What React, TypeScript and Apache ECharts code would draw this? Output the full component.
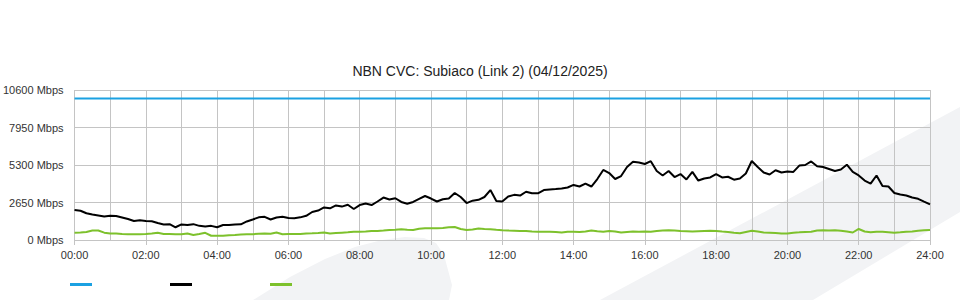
import React, { useEffect, useRef } from "react";
import * as echarts from "echarts";

// Time axis: 10-minute samples from 00:00 to 24:00 (hours)
const STEP_HOURS = 10 / 60;

const yTicks = [0, 2650, 5300, 7950, 10600];
const xTickHours = [0, 2, 4, 6, 8, 10, 12, 14, 16, 18, 20, 22, 24];

const capacityMbps = 10000;

const downloadMbps = [
  2120, 2070, 1890, 1800, 1730, 1660, 1710, 1700, 1590, 1480,
  1340, 1390, 1340, 1320, 1200, 1100, 1120, 900, 1100, 1060,
  1120, 1000, 950, 1000, 900, 1060, 1060, 1100, 1110, 1310,
  1450, 1600, 1640, 1450, 1590, 1640, 1550, 1540, 1600, 1710,
  1980, 2080, 2300, 2240, 2440, 2360, 2490, 2190, 2470, 2580,
  2470, 2720, 3000, 2860, 2950, 2690, 2560, 2690, 2900, 3110,
  2930, 2720, 2880, 2930, 3320, 3040, 2610, 2780, 2840, 3040,
  3530, 2760, 2720, 3070, 3190, 3140, 3410, 3300, 3300, 3530,
  3570, 3600, 3640, 3710, 3890, 3780, 3990, 3780, 4310, 4950,
  4730, 4310, 4520, 5160, 5530, 5480, 5370, 5570, 4880, 4560,
  4880, 4450, 4660, 4280, 4810, 4200, 4350, 4420, 4660, 4420,
  4470, 4260, 4350, 4700, 5580, 5160, 4770, 4630, 4930, 4770,
  4840, 4810, 5260, 5300, 5550, 5210, 5160, 5020, 4880, 4980,
  5320, 4810, 4560, 4200, 3990, 4560, 3820, 3780, 3320, 3210,
  3140, 3000, 2910, 2710, 2520,
];

const uploadMbps = [
  520, 530, 565, 670, 670, 520, 460, 460, 420, 400,
  400, 410, 420, 460, 510, 420, 420, 410, 400, 460,
  350, 420, 510, 300, 300, 300, 330, 350, 390, 400,
  410, 440, 460, 440, 530, 410, 420, 420, 420, 460,
  470, 490, 530, 460, 490, 520, 540, 580, 580, 600,
  640, 640, 670, 710, 730, 760, 720, 710, 790, 830,
  830, 830, 850, 900, 920, 780, 710, 740, 810, 780,
  760, 720, 690, 670, 660, 640, 640, 600, 590, 590,
  590, 570, 530, 590, 590, 570, 600, 670, 620, 590,
  640, 600, 530, 570, 600, 590, 600, 590, 640, 670,
  690, 670, 640, 620, 600, 620, 640, 660, 640, 600,
  570, 510, 480, 570, 650, 600, 530, 520, 490, 460,
  460, 520, 540, 570, 590, 670, 690, 680, 690, 660,
  600, 530, 780, 600, 550, 590, 580, 550, 520, 550,
  590, 600, 650, 690, 710,
];

const pad2 = (n: number) => (n < 10 ? "0" + n : "" + n);

export default function App() {
  const ref = useRef<HTMLDivElement>(null);

  useEffect(() => {
    if (!ref.current) return;
    const chart = echarts.init(ref.current, null, { renderer: "svg" });

    const toPairs = (arr: number[]) => arr.map((v, i) => [i * STEP_HOURS, v]);
    const capacityData = [
      [0, capacityMbps],
      [24, capacityMbps],
    ];

    const wm = "#f2f3f5";

    chart.setOption({
      animation: false,
      backgroundColor: "#ffffff",
      textStyle: { fontFamily: "Liberation Sans, Arial, sans-serif" },
      title: {
        text: "NBN CVC: Subiaco (Link 2) (04/12/2025)",
        left: "center",
        top: 59,
        textStyle: {
          fontSize: 14,
          fontWeight: "normal",
          color: "#222",
          fontFamily: "Liberation Sans, Arial, sans-serif",
        },
      },
      graphic: [
        {
          type: "polygon",
          z: -10,
          silent: true,
          shape: {
            points: [
              [600, 300],
              [960, 107],
              [960, 212],
              [813, 300],
            ],
          },
          style: { fill: wm },
        },
        {
          type: "polygon",
          z: -10,
          silent: true,
          shape: {
            points: [
              [253, 300],
              [290, 277],
              [325, 259],
              [355, 247],
              [382, 240],
              [405, 237],
              [424, 238],
              [436, 243],
              [444, 255],
              [452, 285],
              [449, 300],
            ],
          },
          style: { fill: wm },
        },
      ],
      legend: {
        left: 70,
        top: 283,
        padding: 0,
        itemWidth: 22,
        itemHeight: 3,
        itemGap: 78,
        icon: "rect",
        formatter: () => "",
        selectedMode: false,
        data: ["Capacity", "Download", "Upload"],
      },
      grid: { left: 70, right: 30, top: 90, bottom: 60, containLabel: false },
      xAxis: {
        type: "value",
        min: 0,
        max: 24,
        interval: 2,
        axisLine: { show: false },
        axisTick: {
          show: true,
          length: 5,
          lineStyle: { color: "#c4c4c4" },
        },
        axisLabel: {
          margin: 9,
          fontSize: 11,
          color: "#333",
          formatter: (v: number) =>
            xTickHours.indexOf(v) >= 0 ? pad2(v) + ":00" : "",
        },
        splitLine: { show: true, lineStyle: { color: "#c4c4c4", width: 1 } },
        minorTick: { show: false, splitNumber: 2 },
        minorSplitLine: { show: true, lineStyle: { color: "#c4c4c4", width: 1 } },
      },
      yAxis: {
        type: "value",
        min: 0,
        max: 10600,
        interval: 2650,
        axisLine: { show: false },
        axisTick: { show: false },
        axisLabel: {
          margin: 11,
          fontSize: 11,
          color: "#333",
          formatter: (v: number) =>
            yTicks.indexOf(v) >= 0 ? v + " Mbps" : "",
        },
        splitLine: { show: true, lineStyle: { color: "#c4c4c4", width: 1 } },
      },
      series: [
        {
          name: "Capacity",
          type: "line",
          data: capacityData,
          showSymbol: false,
          lineStyle: { color: "#1ba1e2", width: 2 },
          itemStyle: { color: "#1ba1e2" },
          z: 3,
        },
        {
          name: "Download",
          type: "line",
          data: toPairs(downloadMbps),
          showSymbol: false,
          lineStyle: { color: "#000000", width: 2 },
          itemStyle: { color: "#000000" },
          z: 4,
        },
        {
          name: "Upload",
          type: "line",
          data: toPairs(uploadMbps),
          showSymbol: false,
          lineStyle: { color: "#7dc12c", width: 2 },
          itemStyle: { color: "#7dc12c" },
          z: 3,
        },
      ],
    });

    return () => chart.dispose();
  }, []);

  return (
    <div
      ref={ref}
      style={{ position: "fixed", left: 0, top: 0, width: 960, height: 300 }}
    />
  );
}
